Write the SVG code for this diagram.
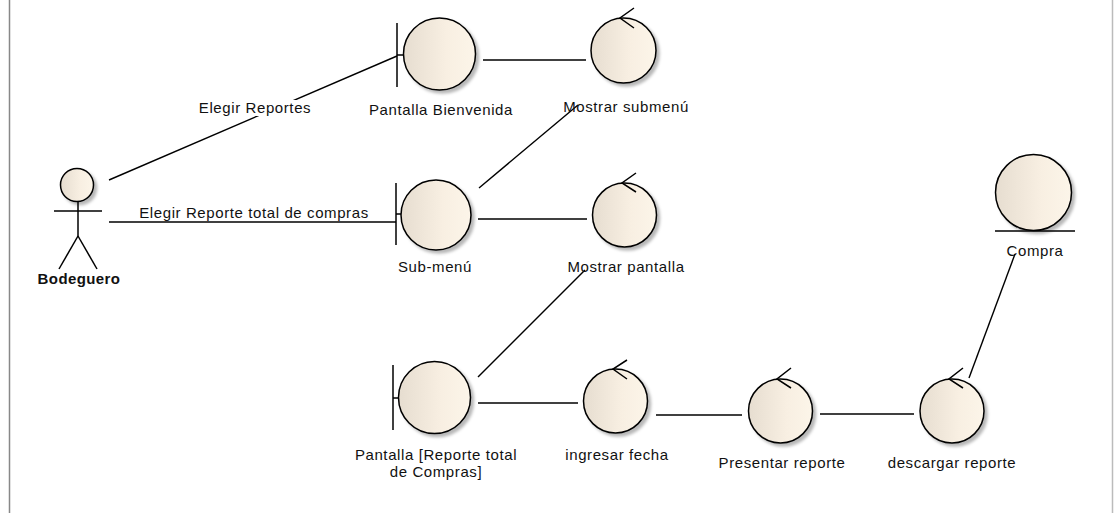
<svg xmlns="http://www.w3.org/2000/svg" width="1114" height="513" viewBox="0 0 1114 513">
<defs>
<linearGradient id="fillg" x1="0" y1="0" x2="1" y2="0">
<stop offset="0" stop-color="#e6ddd0"/>
<stop offset="0.6" stop-color="#f8efe2"/>
<stop offset="1" stop-color="#fcf5e9"/>
</linearGradient>
<filter id="sh" x="-20%" y="-20%" width="150%" height="150%">
<feDropShadow dx="3" dy="3" stdDeviation="1.5" flood-color="#000" flood-opacity="0.28"/>
</filter>
</defs>
<style>
.n{fill:url(#fillg);stroke:#000;stroke-width:1.5;filter:url(#sh)}
.s{stroke:#000;stroke-width:1.5;fill:none}
.c{stroke:#000;stroke-width:1.4;fill:none}
text{font-family:"Liberation Sans",Arial,sans-serif;font-size:15px;fill:#111;text-anchor:middle;letter-spacing:0.6px}
.b{font-weight:bold;letter-spacing:0.4px}
</style>
<rect x="0" y="0" width="1114" height="513" fill="#fff"/>
<line x1="9.5" y1="0" x2="9.5" y2="513" stroke="#888" stroke-width="1.5"/>
<line x1="1112.5" y1="0" x2="1112.5" y2="513" stroke="#bbb" stroke-width="1.5"/>

<g id="connectors">
<line class="c" x1="109" y1="180" x2="397" y2="56"/>
<rect x="198" y="100" width="114" height="16" fill="#fff"/>
<text x="255" y="113">Elegir Reportes</text>
<line class="c" x1="109" y1="222" x2="396" y2="222"/>
<text x="254" y="218">Elegir Reporte total de compras</text>
<line class="c" x1="483" y1="60" x2="586" y2="60"/>
<line class="c" x1="479" y1="188" x2="578" y2="105"/>
<line class="c" x1="478" y1="219" x2="587" y2="219"/>
<line class="c" x1="478" y1="377" x2="585" y2="270"/>
<line class="c" x1="478" y1="403" x2="578" y2="403"/>
<line class="c" x1="656" y1="415" x2="742" y2="415"/>
<line class="c" x1="820" y1="414" x2="914" y2="414"/>
<line class="c" x1="969" y1="378" x2="1015" y2="254"/>
</g>

<g id="bodeguero">
<circle class="n" cx="77" cy="185" r="16.5"/>
<line class="s" x1="78" y1="202" x2="78" y2="236"/>
<line class="s" x1="54" y1="211" x2="102" y2="211"/>
<line class="s" x1="78" y1="236" x2="59" y2="269"/>
<line class="s" x1="78" y1="236" x2="97" y2="269"/>
<text class="b" x="79" y="284">Bodeguero</text>
</g>

<g id="pantalla-bienvenida">
<circle class="n" cx="439.5" cy="54" r="36"/>
<line class="s" x1="397" y1="23" x2="397" y2="87"/>
<line class="s" x1="397" y1="55" x2="403.5" y2="55"/>
<text x="441" y="115">Pantalla Bienvenida</text>
</g>

<g id="mostrar-submenu">
<circle class="n" cx="623.5" cy="50.5" r="32.5"/>
<polyline class="s" points="634,8 620,18 634,28"/>
<text x="626" y="112">Mostrar submenú</text>
</g>

<g id="sub-menu">
<circle class="n" cx="436" cy="215" r="35"/>
<line class="s" x1="396" y1="183" x2="396" y2="245"/>
<line class="s" x1="396" y1="214" x2="401" y2="214"/>
<text x="435" y="272">Sub-menú</text>
</g>

<g id="mostrar-pantalla">
<circle class="n" cx="624.5" cy="215" r="32"/>
<polyline class="s" points="636,173 622,183 636,192"/>
<text x="626" y="272">Mostrar pantalla</text>
</g>

<g id="compra">
<circle class="n" cx="1033.5" cy="192.5" r="38"/>
<line class="s" x1="995" y1="231" x2="1075" y2="231"/>
<text x="1035" y="256">Compra</text>
</g>

<g id="pantalla-reporte">
<circle class="n" cx="434.5" cy="397.5" r="36"/>
<line class="s" x1="393" y1="365" x2="393" y2="430"/>
<line class="s" x1="393" y1="398" x2="398.5" y2="398"/>
<text x="436" y="460">Pantalla [Reporte total</text>
<text x="436" y="477">de Compras]</text>
</g>

<g id="ingresar-fecha">
<circle class="n" cx="615.5" cy="401" r="32"/>
<polyline class="s" points="627,360 613,369 627,379"/>
<text x="617" y="460">ingresar fecha</text>
</g>

<g id="presentar-reporte">
<circle class="n" cx="780.5" cy="411" r="32"/>
<polyline class="s" points="791,368 777,379 791,388"/>
<text x="782" y="468">Presentar reporte</text>
</g>

<g id="descargar-reporte">
<circle class="n" cx="952" cy="411" r="32"/>
<polyline class="s" points="963,368 949,379 963,388"/>
<text x="952" y="468">descargar reporte</text>
</g>
</svg>
